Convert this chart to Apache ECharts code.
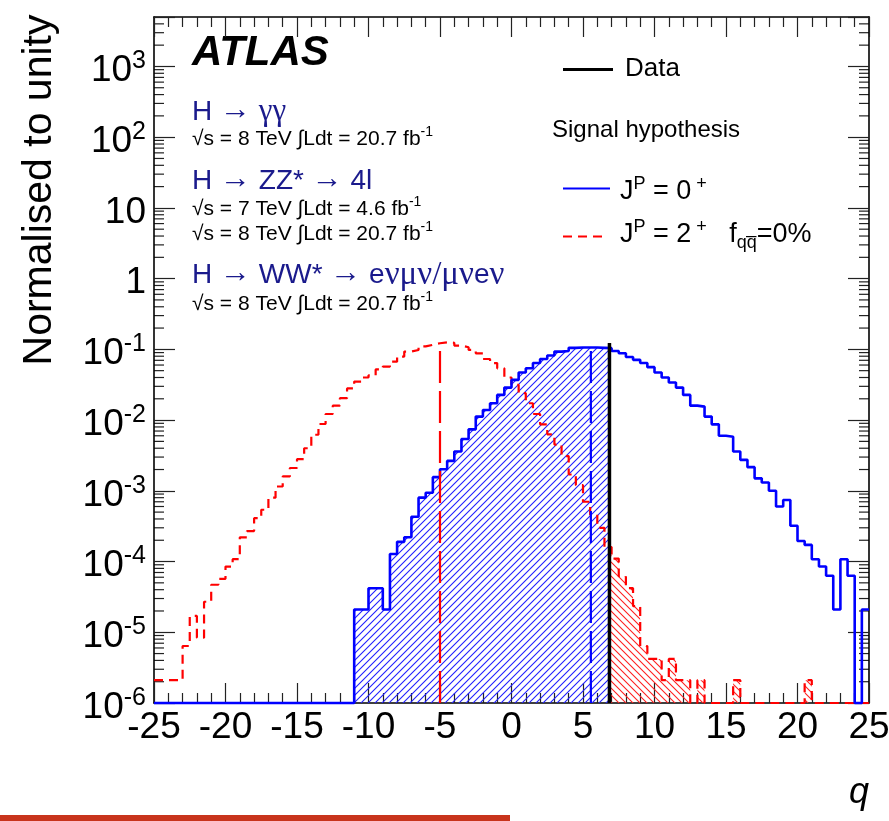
<!DOCTYPE html>
<html>
<head>
<meta charset="utf-8">
<script src="https://cdn.jsdelivr.net/npm/echarts@6/dist/echarts.min.js"></script>
<style>
  html, body { margin: 0; padding: 0; background: #ffffff; }
  #chart { width: 889px; height: 821px; }
</style>
</head>
<body>
<div id="chart"></div>
<script>
// Distributions of the test statistic q, normalised to unity, 0.5-wide bins on [-25, 25]
const Q_MIN = -25;
const Q_MAX = 25;
const BIN_WIDTH = 0.5;
const Y_MIN = 1e-6;
const Y_MAX = 5000;

// J^P = 0+ hypothesis
const spin0 = [
  0, 0, 0, 0, 0, 0, 0, 0, 0, 0,
  0, 0, 0, 0, 0, 0, 0, 0, 0, 0,
  0, 0, 0, 0, 0, 0, 0, 0, 2.1e-5, 2.1e-5,
  4.2e-5, 4.2e-5, 2.1e-5, 1.28e-4, 1.9e-4, 2.2e-4, 4.3e-4, 8.0e-4, 9.4e-4, 1.56e-3,
  2.02e-3, 2.65e-3, 3.6e-3, 5.4e-3, 7.4e-3, 1.12e-2, 1.39e-2, 1.73e-2, 2.27e-2, 2.88e-2,
  3.7e-2, 4.7e-2, 5.4e-2, 6.4e-2, 7.3e-2, 8.2e-2, 9.3e-2, 9.5e-2, 0.105, 0.106,
  0.106, 0.106, 0.105, 0.104, 0.095, 0.088, 0.078, 0.071, 0.064, 0.056,
  0.047, 0.040, 0.034, 0.0288, 0.0227, 0.016, 0.0155, 0.0112, 0.0087, 0.0060,
  0.0058, 0.0036, 0.00274, 0.00216, 0.0015, 0.00131, 0.0010, 0.0006, 0.00074, 0.00032,
  1.95e-4, 1.72e-4, 1.08e-4, 8.5e-5, 6.3e-5, 2.1e-5, 1.08e-4, 6.3e-5, 0, 2.1e-5
];

// J^P = 2+ hypothesis, f_qq = 0%
const spin2 = [
  2.1e-6, 2.1e-6, 2.1e-6, 2.1e-6, 6.4e-6, 1.7e-5, 8.4e-6, 2.7e-5, 4.7e-5, 5.7e-5,
  8.5e-5, 1.08e-4, 2.2e-4, 2.7e-4, 4.1e-4, 5.4e-4, 8.0e-4, 1.15e-3, 1.6e-3, 2.1e-3,
  2.8e-3, 4.0e-3, 6.2e-3, 8.8e-3, 1.22e-2, 1.6e-2, 2.04e-2, 2.8e-2, 3.5e-2, 4.0e-2,
  4.3e-2, 5.2e-2, 5.7e-2, 6.7e-2, 7.9e-2, 9.3e-2, 9.8e-2, 0.110, 0.116, 0.122,
  0.126, 0.124, 0.113, 0.107, 0.098, 0.088, 0.073, 0.064, 0.054, 0.040,
  0.0315, 0.024, 0.0173, 0.0122, 0.0087, 0.0063, 0.0045, 0.0031, 0.0017, 0.0012,
  7.0e-4, 4.6e-4, 3.0e-4, 1.6e-4, 1.1e-4, 6.2e-5, 4.2e-5, 2.35e-5, 6.4e-6, 4.2e-6,
  4.2e-6, 2.1e-6, 4.2e-6, 2.1e-6, 2.1e-6, 0, 2.1e-6, 0, 0, 0,
  0, 2.1e-6, 0, 0, 0, 0, 0, 0, 0, 0,
  0, 2.1e-6, 0, 0, 0, 0, 0, 0, 0, 0
];

// Observed q and the medians of the two hypotheses (position, line height)
const qObserved = 6.85;
const observedHeight = 0.123;
const spin0Median = 5.55;
const spin0MedianHeight = 0.106;
const spin2Median = -5.0;
const spin2MedianHeight = 0.12;

// Axis labelling
const xTickStep = 5;
const yLabelExponents = [-6, -5, -4, -3, -2, -1, 0, 1, 2, 3];

const SANS = '"Liberation Sans", Arial, Helvetica, sans-serif';
const SERIF = '"Liberation Serif", "DejaVu Serif", serif';
const NAVY = '#1a1a8c';

// Histogram outline as a step polyline; empty bins sit on the lower frame
function stepOutline(values) {
  const pts = [];
  values.forEach((v, i) => {
    const lo = Q_MIN + i * BIN_WIDTH;
    const y = v > 0 ? v : Y_MIN;
    pts.push([lo, y], [lo + BIN_WIDTH, y]);
  });
  return pts;
}

// Area under a histogram between two q values (data coordinates)
function regionUnder(values, from, to) {
  const pts = [[from, Y_MIN]];
  values.forEach((v, i) => {
    let lo = Q_MIN + i * BIN_WIDTH;
    let hi = lo + BIN_WIDTH;
    if (hi <= from || lo >= to) return;
    lo = Math.max(lo, from);
    hi = Math.min(hi, to);
    const y = v > 0 ? v : Y_MIN;
    pts.push([lo, y], [hi, y]);
  });
  pts.push([to, Y_MIN]);
  return pts;
}

// Diagonal hatching tile: dir > 0 gives "///", dir < 0 gives "\\\"
function hatch(dir, color, size) {
  const c = document.createElement('canvas');
  c.width = size; c.height = size;
  const ctx = c.getContext('2d');
  ctx.clearRect(0, 0, size, size);
  ctx.strokeStyle = color;
  ctx.lineWidth = 1.1;
  ctx.beginPath();
  for (let k = -1; k <= 1; k++) {
    if (dir > 0) {
      ctx.moveTo(k * size - 1, size + 1);
      ctx.lineTo(k * size + size + 1, -1);
    } else {
      ctx.moveTo(k * size - 1, -1);
      ctx.lineTo(k * size + size + 1, size + 1);
    }
  }
  ctx.stroke();
  return { image: c, repeat: 'repeat' };
}

// Log-axis minor tick values (2..9 x 10^n)
const yMinorTicks = [];
for (let n = -6; n <= 3; n++) {
  for (let k = 2; k <= 9; k++) {
    const v = k * Math.pow(10, n);
    if (v < Y_MAX) yMinorTicks.push([0, v]);
  }
}

const spin0Below = regionUnder(spin0, Q_MIN, qObserved);
const spin2Above = regionUnder(spin2, qObserved, Q_MAX);
const blueHatch = hatch(1, '#2020ff', 7);
const redHatch = hatch(-1, '#ff2020', 7);

function polygonSeries(points, fill) {
  return {
    type: 'custom',
    data: [[0, 1]],
    z: 1,
    silent: true,
    clip: true,
    renderItem: (params, api) => ({
      type: 'polygon',
      shape: { points: points.map(p => api.coord(p)) },
      style: { fill: fill, stroke: null, opacity: 1 }
    })
  };
}

function verticalLine(q, top, color, width, dash, z) {
  return {
    type: 'line',
    data: [[q, Y_MIN], [q, top]],
    symbol: 'none',
    z: z,
    silent: true,
    clip: false,
    lineStyle: { color: color, width: width, type: dash }
  };
}

const chart = echarts.init(document.getElementById('chart'), null, { renderer: 'canvas' });

const tickStyle = { color: '#222', width: 1.2 };

const yLabelRich = {
  b: { fontSize: 37, fontFamily: SANS, color: '#000', lineHeight: 44 },
  s: { fontSize: 25, fontFamily: SANS, color: '#000', lineHeight: 28, verticalAlign: 'top' }
};

function yLabel(v) {
  const e = Math.log10(v);
  const n = Math.round(e);
  if (Math.abs(e - n) > 1e-6 || yLabelExponents.indexOf(n) < 0) return '';
  if (n === 0) return '{b|1}';
  if (n === 1) return '{b|10}';
  return '{b|10}{s|' + n + '}';
}

function lumiLine(text, y) {
  return {
    type: 'text', x: 192, y: y, silent: true,
    style: {
      text: '{m|' + text + '}{s|-1}',
      rich: {
        m: { fontSize: 21, fontFamily: SANS, fill: '#000', lineHeight: 28 },
        s: { fontSize: 14, fontFamily: SANS, fill: '#000', lineHeight: 14, verticalAlign: 'top' }
      },
      verticalAlign: 'middle'
    }
  };
}

function channelLine(parts, y) {
  // parts: [text, style key] with a = Latin, r = arrow, g / h = Greek
  return {
    type: 'text', x: 192, y: y, silent: true,
    style: {
      text: parts.map(p => '{' + p[1] + '|' + p[0] + '}').join(''),
      rich: {
        a: { fontSize: 28, fontFamily: SANS, fill: NAVY, lineHeight: 34 },
        r: { fontSize: 31, fontFamily: SANS, fill: NAVY, lineHeight: 24, verticalAlign: 'top' },
        g: { fontSize: 31, fontFamily: SERIF, fill: NAVY, lineHeight: 34 },
        h: { fontSize: 33, fontFamily: SERIF, fill: NAVY, lineHeight: 34 }
      },
      verticalAlign: 'middle'
    }
  };
}

const legendRich = {
  m: { fontSize: 27, fontFamily: SANS, fill: '#000', lineHeight: 34 },
  s: { fontSize: 18, fontFamily: SANS, fill: '#000', lineHeight: 14, verticalAlign: 'top' },
  d: { fontSize: 18, fontFamily: SANS, fill: '#000', lineHeight: 20, verticalAlign: 'bottom' }
};

const option = {
  animation: false,
  backgroundColor: '#ffffff',
  grid: { left: 154, right: 20, top: 17, bottom: 118, containLabel: false, outerBoundsMode: 'none' },
  xAxis: [
    {
      type: 'value', min: Q_MIN, max: Q_MAX, interval: xTickStep, position: 'bottom',
      axisLine: { show: true, onZero: false, lineStyle: { color: '#000', width: 1.6 } },
      axisTick: { show: true, inside: true, length: 20, lineStyle: tickStyle },
      minorTick: { show: true, splitNumber: 5, length: 10, lineStyle: tickStyle },
      splitLine: { show: false },
      axisLabel: { show: true, margin: 6, fontSize: 37, lineHeight: 37, fontFamily: SANS, color: '#000',
                   showMinLabel: true, showMaxLabel: true, hideOverlap: false }
    },
    {
      type: 'value', min: Q_MIN, max: Q_MAX, interval: xTickStep, position: 'top',
      axisLine: { show: true, onZero: false, lineStyle: { color: '#000', width: 1.6 } },
      axisTick: { show: true, inside: true, length: 20, lineStyle: tickStyle },
      minorTick: { show: true, splitNumber: 5, length: 10, lineStyle: tickStyle },
      splitLine: { show: false },
      axisLabel: { show: false }
    }
  ],
  yAxis: [
    {
      type: 'log', logBase: 10, min: Y_MIN, max: Y_MAX, position: 'left', splitNumber: 10,
      axisLine: { show: true, onZero: false, lineStyle: { color: '#000', width: 1.6 } },
      axisTick: { show: true, inside: true, length: 21, lineStyle: tickStyle },
      splitLine: { show: false },
      axisLabel: { show: true, margin: 8, padding: [9, 0, 0, 0], formatter: yLabel, rich: yLabelRich,
                   showMinLabel: true, showMaxLabel: true, hideOverlap: false }
    },
    {
      type: 'log', logBase: 10, min: Y_MIN, max: Y_MAX, position: 'right', splitNumber: 10,
      axisLine: { show: true, onZero: false, lineStyle: { color: '#000', width: 1.6 } },
      axisTick: { show: true, inside: true, length: 21, lineStyle: tickStyle },
      splitLine: { show: false },
      axisLabel: { show: false }
    }
  ],
  series: [
    // minor ticks of the log axis on both vertical frame edges
    {
      type: 'custom', data: yMinorTicks, z: 0, silent: true, clip: false,
      renderItem: (params, api) => {
        const v = api.value(1);
        const l = api.coord([Q_MIN, v]);
        const r = api.coord([Q_MAX, v]);
        return {
          type: 'group',
          children: [
            { type: 'line', shape: { x1: l[0], y1: l[1], x2: l[0] + 10, y2: l[1] }, style: { stroke: '#222', lineWidth: 1.2 } },
            { type: 'line', shape: { x1: r[0] - 10, y1: r[1], x2: r[0], y2: r[1] }, style: { stroke: '#222', lineWidth: 1.2 } }
          ]
        };
      }
    },
    polygonSeries(spin0Below, blueHatch),
    polygonSeries(spin2Above, redHatch),
    {
      name: 'J^P = 2+', type: 'line', data: stepOutline(spin2), symbol: 'none', z: 3, silent: true, clip: false,
      lineStyle: { color: '#ff0000', width: 2.2, type: [9, 6] }
    },
    {
      name: 'J^P = 0+', type: 'line', data: stepOutline(spin0), symbol: 'none', z: 4, silent: true, clip: false,
      lineStyle: { color: '#0000ff', width: 2.6, type: 'solid' }
    },
    verticalLine(spin2Median, spin2MedianHeight, '#ff0000', 2.2, [32, 8], 5),
    verticalLine(spin0Median, spin0MedianHeight, '#0000ff', 2.2, [32, 8], 5),
    verticalLine(qObserved, observedHeight, '#000000', 3.5, 'solid', 6)
  ],
  graphic: {
    elements: [
      // axis titles
      {
        type: 'text', x: 40, y: 190, rotation: Math.PI / 2, silent: true,
        style: { text: 'Normalised to unity', font: '41px ' + SANS, fill: '#000', align: 'center', verticalAlign: 'middle' }
      },
      {
        type: 'text', x: 869, y: 793, silent: true,
        style: { text: 'q', font: 'italic 36px ' + SANS, fill: '#000', align: 'right', verticalAlign: 'middle' }
      },
      // experiment label and channels
      {
        type: 'text', x: 192, y: 53, silent: true,
        style: { text: 'ATLAS', font: 'italic bold 42px ' + SANS, fill: '#000', verticalAlign: 'middle' }
      },
      channelLine([['H ', 'a'], ['→', 'r'], [' ', 'a'], ['γγ', 'g']], 112),
      lumiLine('√s = 8 TeV ∫Ldt = 20.7 fb', 139),
      channelLine([['H ', 'a'], ['→', 'r'], [' ZZ* ', 'a'], ['→', 'r'], [' 4l', 'a']], 181),
      lumiLine('√s = 7 TeV ∫Ldt = 4.6 fb', 209),
      lumiLine('√s = 8 TeV ∫Ldt = 20.7 fb', 234),
      channelLine([['H ', 'a'], ['→', 'r'], [' WW* ', 'a'], ['→', 'r'], [' e', 'a'], ['νμν/μν', 'h'], ['e', 'a'], ['ν', 'h']], 275),
      lumiLine('√s = 8 TeV ∫Ldt = 20.7 fb', 304),
      // legend
      { type: 'line', silent: true, shape: { x1: 563, y1: 69.5, x2: 613, y2: 69.5 }, style: { stroke: '#000', lineWidth: 3 } },
      { type: 'text', x: 625, y: 69, silent: true, style: { text: 'Data', font: '26px ' + SANS, fill: '#000', verticalAlign: 'middle' } },
      { type: 'text', x: 552, y: 130, silent: true, style: { text: 'Signal hypothesis', font: '24px ' + SANS, fill: '#000', verticalAlign: 'middle' } },
      { type: 'line', silent: true, shape: { x1: 563, y1: 188.5, x2: 610, y2: 188.5 }, style: { stroke: '#0000ff', lineWidth: 2 } },
      {
        type: 'text', x: 620, y: 192, silent: true,
        style: { text: '{m|J}{s|P}{m| = 0}{s| +}', rich: legendRich, verticalAlign: 'middle' }
      },
      { type: 'line', silent: true, shape: { x1: 563, y1: 236.5, x2: 606, y2: 236.5 }, style: { stroke: '#ff0000', lineWidth: 2, lineDash: [9, 6] } },
      {
        type: 'text', x: 620, y: 235, silent: true,
        style: { text: '{m|J}{s|P}{m| = 2}{s| +}{m|   f}{d|qq\u0305}{m|=0%}', rich: legendRich, verticalAlign: 'middle' }
      },
      // footer rule
      { type: 'rect', silent: true, shape: { x: 0, y: 815, width: 510, height: 6 }, style: { fill: '#c8341c' } }
    ]
  }
};

chart.setOption(option);
</script>
</body>
</html>
